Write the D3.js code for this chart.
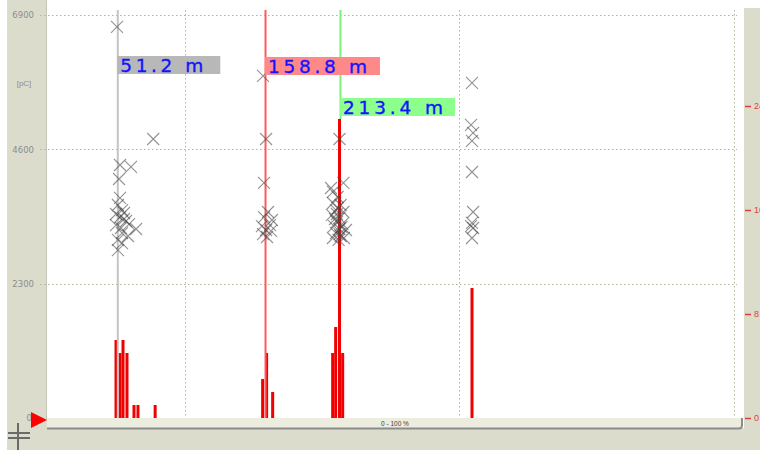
<!DOCTYPE html>
<html>
<head>
<meta charset="utf-8">
<script src="https://cdn.jsdelivr.net/npm/d3@7/dist/d3.min.js"></script>
<style>
  html, body { margin: 0; padding: 0; background: #ffffff; }
  svg { display: block; font-family: "Liberation Sans", Arial, sans-serif; }
</style>
</head>
<body>
<svg id="chart" width="760" height="450"></svg>
<script>
// Axis ticks
const chargeTicks = [0, 2300, 4600, 6900];   // left axis, pC
const countTicks = [0, 8, 16, 24];           // right axis, pulse count
const distGrid = [100, 300, 500];            // vertical grid, m

// Cursor markers along the cable
const markerDist = [51.2, 158.8, 213.4];
const markerLabels = ["51.2 m", "158.8 m", "213.4 m"];

// Partial-discharge pulses: location (m) and charge (pC)
const pulseDist = [
  50.6, 77.0, 52.8, 60.8, 52.1, 52.8, 51.3, 54.3, 55.7, 52.8, 57.2, 49.9, 64.5, 54.3, 58.6, 51.3, 54.3, 51.3, 55.7, 59.4, 53.5, 49.9,
  157.0, 159.2, 157.7, 160.6, 157.7, 163.5, 156.2, 162.1, 159.2, 157.0, 162.8, 159.9,
  212.7, 206.5, 215.5, 207.9, 211.3, 207.9, 213.5, 210.1, 215.5, 207.2, 212.7, 210.8, 214.8, 208.7, 212.7, 217.4, 210.1, 213.5, 207.9, 212.0,
  211.3, 214.1, 209.4, 212.7, 210.8, 215.9,
  309.2, 308.5, 310.0, 309.2, 309.2, 310.0, 309.2, 310.0, 308.5, 309.2
];
const pulseCharge = [
  6695, 4777, 4332, 4298, 4092, 3767, 3647, 3561, 3510, 3441, 3373, 3304, 3236, 3167, 3116, 3048, 2996, 2876, 3407, 3321, 3253, 3493,
  5856, 4777, 4024, 3527, 3441, 3390, 3287, 3304, 3219, 3150, 3202, 3099,
  4777, 3938, 4024, 3870, 3784, 3681, 3647, 3561, 3527, 3476, 3425, 3356, 3322, 3287, 3236, 3219, 3167, 3116, 3082, 3048,
  3595, 3270, 3407, 3150, 3493, 3082,
  5736, 5017, 4880, 4743, 4212, 3527, 3339, 3253, 3287, 3082
];

// Pulse-count histogram: bin location (m) and count
const binDist = [49.9, 52.8, 55.0, 57.9, 63.0, 65.9, 78.4, 156.7, 159.6, 164.0, 207.7, 209.9, 212.7, 215.0, 309.2];
const binCount = [6, 5, 6, 5, 1, 1, 1, 3, 5, 2, 5, 7, 23, 5, 10];

const svg = d3.select("#chart");
const W = 760, H = 450;
const plot = { left: 47, right: 744, top: 0, bottom: 418 };

const x = d3.scaleLinear().domain([0, 506]).range([47.5, 742.2]);
const yL = d3.scaleLinear().domain([0, 6900]).range([418, 15]);
const yR = d3.scaleLinear().domain([0, 31]).range([418, 15]);

// Frame panels
const panel = "#dcdccd";
svg.append("rect").attr("x", 0).attr("y", 0).attr("width", W).attr("height", H).attr("fill", "#ffffff");
svg.append("rect").attr("x", 7).attr("y", 0).attr("width", plot.left - 7).attr("height", H).attr("fill", panel);
svg.append("rect").attr("x", plot.right).attr("y", 8).attr("width", W - plot.right).attr("height", H - 8).attr("fill", panel);
svg.append("rect").attr("x", 7).attr("y", 428).attr("width", W - 7).attr("height", H - 428).attr("fill", panel);
svg.append("line").attr("x1", plot.left - 0.5).attr("x2", plot.left - 0.5).attr("y1", 0).attr("y2", 420)
  .attr("stroke", "#c4c4b8").attr("stroke-width", 1);

// Bottom range strip
svg.append("rect").attr("x", plot.left).attr("y", 418).attr("width", plot.right - plot.left - 2).attr("height", 10)
  .attr("fill", "#ececdf");
svg.append("path")
  .attr("d", `M${plot.left},428.5 L${plot.right - 5},428.5 Q${plot.right - 2},428.5 ${plot.right - 2},425 L${plot.right - 2},418`)
  .attr("fill", "none").attr("stroke", "#8c8c8c").attr("stroke-width", 2);
svg.append("text").attr("x", 395).attr("y", 426).attr("text-anchor", "middle")
  .attr("font-size", 6.5).attr("fill", "#404040").text("0 - 100 %");

// Grid
const gridColor = "#b4b2a0";
svg.append("g").selectAll("line").data(chargeTicks.filter(d => d > 0)).join("line")
  .attr("x1", 40).attr("x2", 737)
  .attr("y1", d => Math.round(yL(d)) + 0.5).attr("y2", d => Math.round(yL(d)) + 0.5)
  .attr("stroke", gridColor).attr("stroke-width", 1).attr("stroke-dasharray", "1.5,2.5");
svg.append("g").selectAll("line").data(distGrid).join("line")
  .attr("x1", d => Math.round(x(d)) + 0.5).attr("x2", d => Math.round(x(d)) + 0.5)
  .attr("y1", 10).attr("y2", 418)
  .attr("stroke", gridColor).attr("stroke-width", 1).attr("stroke-dasharray", "1.5,2.5");

// Left axis (charge)
const leftAxis = svg.append("g").attr("transform", "translate(34,0)")
  .call(d3.axisLeft(yL).tickValues(chargeTicks).tickSize(0).tickPadding(0).tickFormat(d3.format("d")));
leftAxis.select(".domain").remove();
leftAxis.selectAll("text").attr("font-size", 8.5).attr("fill", "#8c8c8c")
  .attr("font-family", "'DejaVu Sans', sans-serif").attr("dy", "0.35em");
leftAxis.selectAll(".tick").filter(d => d === 0).select("text").attr("x", -2);
svg.append("text").attr("x", 24).attr("y", 86).attr("text-anchor", "middle")
  .attr("font-size", 8).attr("fill", "#8c8c8c").text("[pC]");

// Right axis (count); labels run off the right edge of the frame
const rightAxis = svg.append("g").attr("transform", `translate(${plot.right + 1},0)`)
  .call(d3.axisRight(yR).tickValues(countTicks).tickSize(6).tickPadding(3));
rightAxis.select(".domain").remove();
rightAxis.selectAll("line").attr("stroke", "#e03c3c").attr("stroke-width", 1.5);
rightAxis.selectAll("text").attr("font-size", 9).attr("fill", "#e03c3c");

// Histogram bars
svg.append("g").selectAll("rect").data(binDist).join("rect")
  .attr("x", d => x(d) - 1.5)
  .attr("width", 3)
  .attr("y", (d, i) => yR(binCount[i]))
  .attr("height", (d, i) => yR(0) - yR(binCount[i]))
  .attr("fill", "#f00000");

// Cursor lines
const markerColor = ["#c4c4c4", "#ff5a5a", "#7cf07c"];
const boxColor = ["#b8b8b8", "#ff8888", "#8cff8c"];
const boxTop = [56, 57, 98];
const boxW = [103, 115, 115];
const textW = [83, 99, 100];
svg.append("g").selectAll("line").data(markerDist).join("line")
  .attr("x1", d => x(d)).attr("x2", d => x(d))
  .attr("y1", 10)
  .attr("y2", (d, i) => i === 2 ? yR(d3.max(binCount)) : 418)
  .attr("stroke", (d, i) => markerColor[i]).attr("stroke-width", 2);

// Pulses (x marks)
svg.append("g").selectAll("path").data(pulseDist).join("path")
  .attr("transform", (d, i) => `translate(${x(d)},${yL(pulseCharge[i])})`)
  .attr("d", "M-6,-6L6,6M6,-6L-6,6")
  .attr("fill", "none").attr("stroke", "#4a4a4a").attr("stroke-width", 1.1).attr("stroke-opacity", 0.6);

// Cursor labels
const labels = svg.append("g").selectAll("g").data(markerDist).join("g")
  .attr("transform", (d, i) => `translate(${x(d) - 0.5},${boxTop[i]})`);
labels.append("rect").attr("width", (d, i) => boxW[i]).attr("height", 18)
  .attr("fill", (d, i) => boxColor[i]);
labels.append("text").attr("x", 3).attr("y", 15.5)
  .attr("font-family", "'DejaVu Sans', sans-serif")
  .attr("font-size", 18.5).attr("fill", "#1414ff")
  .attr("stroke", "#1414ff").attr("stroke-width", 0.35)
  .attr("textLength", (d, i) => textW[i]).attr("lengthAdjust", "spacing")
  .text((d, i) => markerLabels[i]);

// Start marker and crosshair icon
svg.append("path").attr("d", "M31,412 L47,420 L31,428 Z").attr("fill", "#ff0000");
const icon = svg.append("g").attr("stroke", "#6a6a6a").attr("stroke-width", 2);
icon.append("line").attr("x1", 18).attr("x2", 18).attr("y1", 423).attr("y2", 450);
icon.append("line").attr("x1", 8).attr("x2", 30).attr("y1", 433).attr("y2", 433);
icon.append("line").attr("x1", 8).attr("x2", 30).attr("y1", 438).attr("y2", 438);
</script>
</body>
</html>
